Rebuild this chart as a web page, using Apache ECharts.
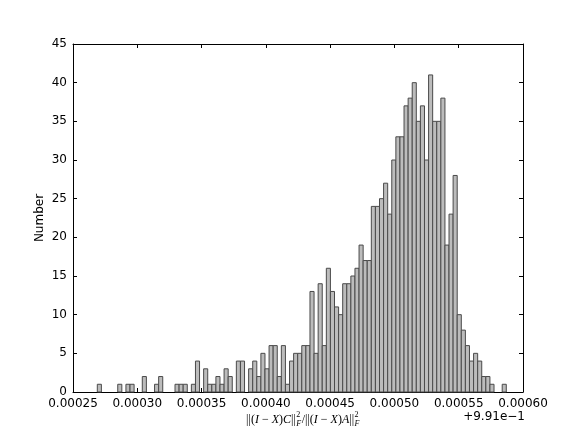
<!DOCTYPE html>
<html>
<head>
<meta charset="utf-8">
<script src="https://cdn.jsdelivr.net/npm/echarts@6/dist/echarts.min.js"></script>
<style>
  html, body { margin: 0; padding: 0; background: #fff; }
  #main { width: 581px; height: 436px; }
</style>
</head>
<body>
<div id="main"></div>
<script>
// histogram: 100 equal bins, offset +9.91e-1 on the x axis
const binStart = 0.0002689;
const binWidth = 0.000003181;
const counts = [
  1, 0, 0, 0, 0, 1, 0, 1, 1, 0,
  0, 2, 0, 0, 1, 2, 0, 0, 0, 1,
  1, 1, 0, 1, 4, 0, 3, 1, 1, 2,
  1, 3, 2, 0, 4, 4, 0, 3, 4, 2,
  5, 3, 6, 6, 2, 6, 1, 4, 5, 5,
  6, 6, 13, 5, 14, 6, 16, 13, 11, 10,
  14, 14, 15, 16, 19, 17, 17, 24, 24, 25,
  27, 23, 30, 33, 33, 37, 38, 40, 35, 37,
  30, 41, 35, 35, 38, 19, 23, 28, 10, 8,
  6, 4, 5, 4, 2, 2, 1, 0, 0, 1
];
const xTicks = [0.00025, 0.0003, 0.00035, 0.0004, 0.00045, 0.0005, 0.00055, 0.0006];
const yTicks = [0, 5, 10, 15, 20, 25, 30, 35, 40, 45];

const bins = counts.map((c, i) => [binStart + i * binWidth, binStart + (i + 1) * binWidth, c]);

const chart = echarts.init(document.getElementById('main'));

// build the math-text x label from small pieces
const ctx = document.createElement('canvas').getContext('2d');
function measure(t, font) { ctx.font = font; return ctx.measureText(t).width; }
const fN = '12px "Liberation Serif"';
const fI = 'italic 12px "Liberation Serif"';
const fS = '8px "Liberation Serif"';
const fSI = 'italic 8px "Liberation Serif"';
const pieces = [
  ['||(', fN], ['I', fI], [' \u2212 ', fN], ['X', fI], [')', fN], ['C', fI], ['||', fN], null,
  ['/||(', fN], ['I', fI], [' \u2212 ', fN], ['X', fI], [')', fN], ['A', fI], ['||', fN], null
];
const scriptW = Math.max(measure('2', fS), measure('F', fSI)) + 1;
let total = 0;
pieces.forEach(p => { total += p ? measure(p[0], p[1]) : scriptW; });
const labelY = 420;
let cx = 303 - total / 2;
const mathEls = [];
pieces.forEach(p => {
  if (p) {
    mathEls.push({ type: 'text', x: cx, y: labelY, style: { text: p[0], font: p[1], fill: '#000', verticalAlign: 'middle' } });
    cx += measure(p[0], p[1]);
  } else {
    mathEls.push({ type: 'text', x: cx + 0.5, y: labelY - 5, style: { text: '2', font: fS, fill: '#000', verticalAlign: 'middle' } });
    mathEls.push({ type: 'text', x: cx + 0.5, y: labelY + 4, style: { text: 'F', font: fSI, fill: '#000', verticalAlign: 'middle' } });
    cx += scriptW;
  }
});

const axisCommon = {
  type: 'value',
  splitLine: { show: false },
  axisLine: { show: true, onZero: false, lineStyle: { color: '#000', width: 1 } },
  axisTick: { show: true, inside: true, length: 4, lineStyle: { color: '#000' } }
};

chart.setOption({
  animation: false,
  backgroundColor: '#fff',
  grid: { left: 73, right: 58, top: 44, bottom: 44 },
  xAxis: [
    Object.assign({}, axisCommon, {
      position: 'bottom',
      min: xTicks[0], max: xTicks[xTicks.length - 1], interval: 0.00005,
      axisLabel: {
        color: '#000', fontFamily: 'DejaVu Sans', fontSize: 12, margin: 6,
        formatter: v => v.toFixed(5)
      }
    }),
    Object.assign({}, axisCommon, {
      position: 'top',
      min: xTicks[0], max: xTicks[xTicks.length - 1], interval: 0.00005,
      axisLabel: { show: false }
    })
  ],
  yAxis: [
    Object.assign({}, axisCommon, {
      position: 'left',
      min: yTicks[0], max: yTicks[yTicks.length - 1], interval: 5,
      name: 'Number', nameLocation: 'middle', nameGap: 27, nameMoveOverlap: false,
      nameTextStyle: { color: '#000', fontFamily: 'DejaVu Sans', fontSize: 12 },
      axisLabel: { color: '#000', fontFamily: 'DejaVu Sans', fontSize: 12, margin: 6 }
    }),
    Object.assign({}, axisCommon, {
      position: 'right',
      min: yTicks[0], max: yTicks[yTicks.length - 1], interval: 5,
      axisLabel: { show: false }
    })
  ],
  graphic: mathEls.concat([
    { type: 'text', right: 56, top: 411,
      style: { text: '+9.91e\u22121', font: '12px "DejaVu Sans"', fill: '#000' } }
  ]),
  series: [{
    type: 'custom',
    xAxisIndex: 0,
    yAxisIndex: 0,
    encode: { x: [0, 1], y: 2 },
    data: bins,
    renderItem: function (params, api) {
      const c = api.value(2);
      if (!c) return null;
      const p0 = api.coord([api.value(0), c]);
      const p1 = api.coord([api.value(1), 0]);
      return {
        type: 'rect',
        shape: { x: p0[0], y: p0[1], width: p1[0] - p0[0], height: p1[1] - p0[1] },
        style: { fill: '#bcbcbc', stroke: '#4a4a4a', lineWidth: 1 }
      };
    }
  }]
});
</script>
</body>
</html>
